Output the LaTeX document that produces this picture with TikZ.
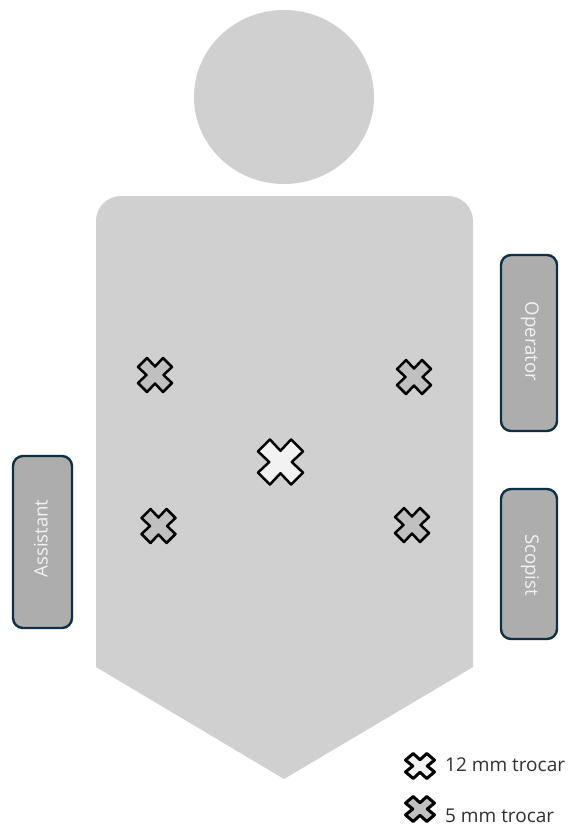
\documentclass[tikz,border=0pt]{standalone}
\usepackage{fontspec}
\setmainfont{Open Sans}
\definecolor{bodygray}{HTML}{D0D0D0}
\definecolor{boxgray}{HTML}{ADADAD}
\definecolor{boxedge}{HTML}{0E2F44}
\definecolor{smallfill}{HTML}{C0C0C0}
\definecolor{bigfill}{HTML}{F2F2F2}
\definecolor{boxtext}{HTML}{F2F2F2}
\definecolor{legendtext}{HTML}{303030}
\tikzset{
  staffbox/.style={draw=boxedge,fill=boxgray,line width=2.4pt,rounded corners=10pt},
  stafftext/.style={text=boxtext,inner sep=0pt,font=\fontsize{18.6}{20}\selectfont},
  legendlabel/.style={text=legendtext,inner sep=0pt,anchor=base west,font=\fontsize{19}{20}\selectfont},
  pics/trocar/.style n args={4}{code={
    \draw[draw=black,fill=#1,line width=#4pt,line join=round,x=#2pt,y=#3pt]
      (-.47,-1)--(0,-.5)--(.47,-1)--(1,-.47)--(.5,0)--(1,.47)--(.47,1)--(0,.5)--(-.47,1)--(-1,.47)--(-.5,0)--(-1,-.47)--cycle;
  }}
}
\begin{document}
\begin{tikzpicture}[x=1pt,y=-1pt]
\useasboundingbox (0,0) rectangle (575,825);
% patient
\fill[bodygray] (284,97) ellipse [x radius=90pt,y radius=87pt];
\fill[bodygray] (96,221) arc [start angle=180,end angle=90,radius=25pt] -- (448,196)
  arc [start angle=90,end angle=0,radius=25pt] -- (473,667) -- (284,779) -- (96,667) -- cycle;
% staff
\draw[staffbox] (501,255) rectangle (557,431);
\draw[staffbox] (501,489) rectangle (557,639);
\draw[staffbox] (13,456) rectangle (72,628);
\node[stafftext,rotate=-90] (operator) at (530,341.5) {Operator};
\node[stafftext,rotate=-90] (scopist) at (530,565) {Scopist};
\node[stafftext,rotate=90] (assistant) at (41,538.5) {Assistant};
% trocars
\pic at (155,375) {trocar={smallfill}{17}{17}{2.5}};
\pic at (414,377) {trocar={smallfill}{17}{17}{2.5}};
\pic at (158.5,526) {trocar={smallfill}{17}{17}{2.5}};
\pic at (412,525) {trocar={smallfill}{17}{17}{2.5}};
\pic at (280.5,462) {trocar={bigfill}{22.5}{22.5}{2.5}};
% legend
\pic at (420,766) {trocar={bigfill}{14.5}{12.5}{3}};
\pic at (420,809) {trocar={smallfill}{14.5}{12.5}{3}};
\node[legendlabel] (big) at (445,771.5) {12 mm trocar};
\node[legendlabel] (small) at (445,822) {5 mm trocar};
\end{tikzpicture}
\end{document}
